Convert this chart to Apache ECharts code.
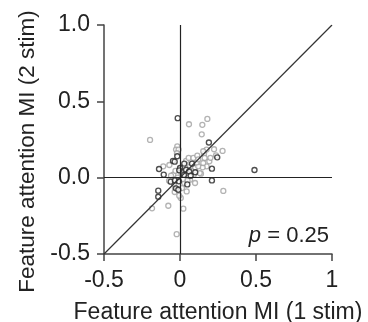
<!DOCTYPE html>
<html>
<head>
<meta charset="utf-8">
<script src="https://cdn.jsdelivr.net/npm/echarts@6/dist/echarts.min.js"></script>
<style>
  html, body { margin: 0; padding: 0; background: #fff; }
  #chart { width: 368px; height: 322px; }
</style>
</head>
<body>
<div id="chart"></div>
<script>
const FONT = "'Liberation Sans', Arial, sans-serif";

// [MI 1 stim, MI 2 stim]
const grayPoints = [
  [-0.197, 0.247], [0.18, 0.385], [0.147, 0.346], [0.143, 0.284], [0.059, 0.35],
  [-0.018, 0.205], [-0.026, 0.184], [-0.009, 0.184], [-0.02, 0.16], [0.04, 0.11],
  [0.057, 0.129], [0.088, 0.129], [0.114, 0.144], [0.158, 0.157], [0.175, 0.184],
  [0.224, 0.186], [0.153, 0.173], [0.28, 0.175], [0.162, 0.129], [0.193, 0.107],
  [0.175, 0.074], [0.149, 0.068], [0.237, 0.146], [0.285, -0.087], [0.138, 0.026],
  [0.153, 0.096], [-0.11, 0.074], [-0.07, 0.083], [-0.044, 0.02], [-0.059, 0.013],
  [-0.072, -0.02], [0.066, 0.074], [0.099, 0.063], [0.12, 0.074], [0.13, 0.03],
  [0.092, 0.02], [0.066, -0.013], [0.099, -0.035], [0.028, -0.035], [0.013, -0.068],
  [-0.033, -0.068], [-0.035, -0.094], [0.044, -0.09], [0.005, -0.133], [-0.005, -0.118],
  [-0.077, -0.184], [-0.184, -0.201], [0.022, -0.203], [-0.022, -0.37],
  [0.01, 0.03], [-0.015, 0.0], [0.02, -0.01], [0.045, 0.03], [-0.03, 0.045],
  [0.075, 0.045], [0.11, 0.1], [0.02, 0.07], [-0.04, -0.04], [0.05, -0.02],
  [0.2, 0.13], [0.12, 0.12]
];

const blackPoints = [
  [-0.015, 0.39], [0.19, 0.23], [-0.046, 0.11], [-0.018, 0.14], [-0.035, 0.105],
  [0.028, 0.092], [0.079, 0.092], [-0.138, 0.057], [-0.107, 0.02], [0, 0.063],
  [-0.005, 0.048], [0.04, 0.052], [0.06, 0.04], [0.1, 0.035], [0.07, 0.013],
  [0.026, 0.018], [-0.061, -0.026], [-0.033, -0.018], [-0.007, -0.024], [0.048, -0.044],
  [-0.026, -0.07], [-0.011, -0.079], [-0.143, -0.085], [-0.143, -0.125], [0.21, 0.059],
  [0.245, 0.133], [0.21, -0.018], [0.49, 0.05]
];

const unityLine = [[-0.5, -0.5], [1, 1]];
const xRange = [-0.5, 1];
const yRange = [-0.5, 1];
const pText = "0.25";

const chart = echarts.init(document.getElementById("chart"));

const axisCommon = {
  type: "value",
  interval: 0.5,
  nameLocation: "middle",
  nameTextStyle: { fontSize: 23, color: "#222", fontFamily: FONT },
  axisLine: { onZero: false, lineStyle: { color: "#444", width: 1.5 } },
  axisTick: { length: 7, lineStyle: { color: "#444", width: 1.5 } },
  axisLabel: { fontSize: 23, color: "#222", fontFamily: FONT, margin: 14 },
  splitLine: { show: false },
};

chart.setOption({
  animation: false,
  backgroundColor: "#fff",
  title: {
    text: "{i|p} = " + pText,
    right: 34,
    top: 220,
    textStyle: {
      fontSize: 22,
      fontWeight: "normal",
      color: "#222",
      fontFamily: FONT,
      rich: { i: { fontStyle: "italic", fontSize: 22, color: "#222", fontFamily: FONT } },
    },
  },
  grid: { left: 104, right: 36, top: 25, bottom: 68, outerBoundsMode: "none" },
  xAxis: {
    ...axisCommon,
    min: xRange[0],
    max: xRange[1],
    name: "Feature attention MI (1 stim)",
    nameGap: 47,
    axisLabel: { ...axisCommon.axisLabel, margin: 15 },
  },
  yAxis: {
    ...axisCommon,
    min: yRange[0],
    max: yRange[1],
    name: "Feature attention MI (2 stim)",
    nameGap: 64,
    nameTextStyle: { ...axisCommon.nameTextStyle, fontSize: 22.5, padding: [0, 24, 0, 0] },
    axisLabel: { ...axisCommon.axisLabel, formatter: (v) => v.toFixed(1) },
  },
  series: [
    {
      type: "line",
      data: unityLine,
      symbol: "none",
      silent: true,
      lineStyle: { color: "#333", width: 1.2 },
      markLine: {
        silent: true,
        symbol: "none",
        label: { show: false },
        lineStyle: { color: "#222", width: 1.2, type: "solid" },
        data: [{ xAxis: 0 }, { yAxis: 0 }],
      },
    },
    {
      type: "scatter",
      data: grayPoints,
      symbol: "circle",
      symbolSize: 5,
      itemStyle: { color: "#fff", borderColor: "#a0a0a0", borderWidth: 1.3 },
    },
    {
      type: "scatter",
      data: blackPoints,
      symbol: "circle",
      symbolSize: 5,
      itemStyle: { color: "#fff", borderColor: "#222", borderWidth: 1.4 },
    },
  ],
});
</script>
</body>
</html>
